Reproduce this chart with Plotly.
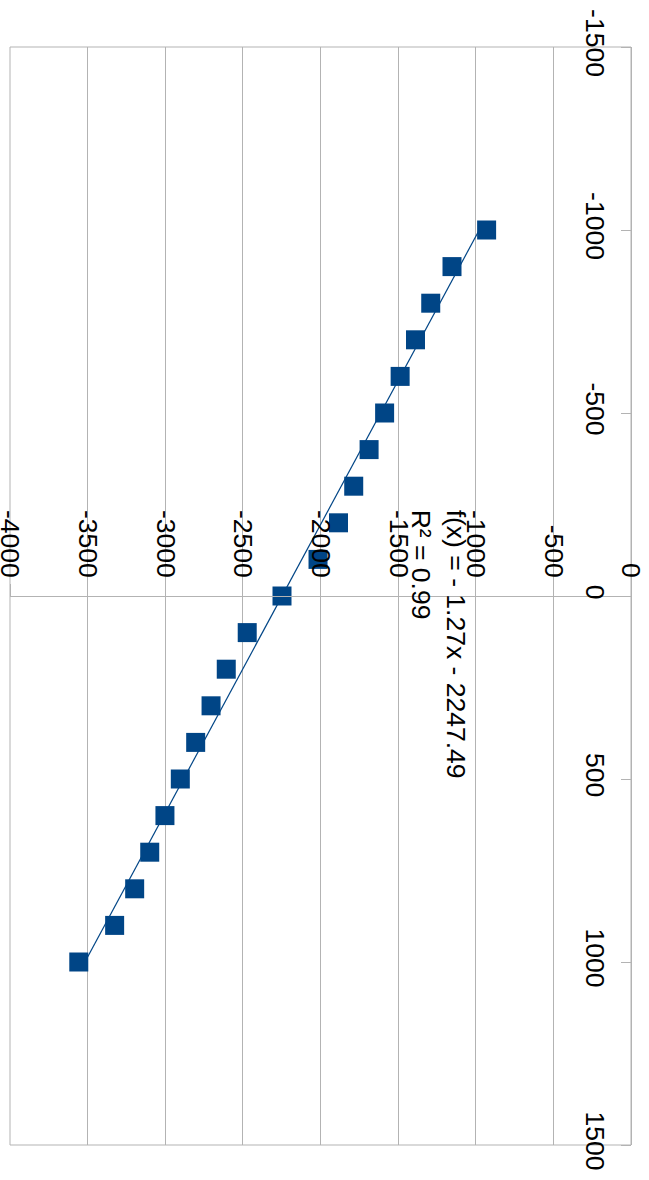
import plotly.graph_objects as go

# Sample positions (x) and measured responses (y)
x_vals = [-1000, -900, -800, -700, -600, -500, -400, -300, -200, -100, 0,
          100, 200, 300, 400, 500, 600, 700, 800, 900, 1000]
y_vals = [-930, -1153, -1290, -1388, -1487, -1587, -1687, -1786, -1884, -2016, -2248,
          -2472, -2607, -2705, -2804, -2903, -3002, -3100, -3197, -3326, -3557]

# Linear trend f(x) = slope * x + intercept
slope = -1.27
intercept = -2247.49
r_squared = 0.99
trend_x = [x_vals[0], x_vals[-1]]
trend_y = [slope * v + intercept for v in trend_x]

x_ticks = [-1500, -1000, -500, 0, 500, 1000, 1500]
y_ticks = [-4000, -3500, -3000, -2500, -2000, -1500, -1000, -500, 0]

BLUE = "#004586"
GRID = "#b3b3b3"
FONT = dict(family="Liberation Sans, Arial, sans-serif", size=26.5, color="#000000")

fig = go.Figure()

# The chart is laid out turned a quarter turn clockwise:
# the horizontal screen axis carries y, the vertical one carries x.
fig.add_trace(go.Scatter(
    x=trend_y, y=trend_x, mode="lines",
    line=dict(color=BLUE, width=1.2),
    hoverinfo="skip", showlegend=False,
))
fig.add_trace(go.Scatter(
    x=y_vals, y=x_vals, mode="markers",
    marker=dict(symbol="square", size=19, color=BLUE, line=dict(width=0)),
    showlegend=False,
))

eq = f"f(x) = - {abs(slope):.2f}x - {abs(intercept):.2f}<br>R² = {r_squared:.2f}"
fig.add_annotation(
    text=eq, textangle=90, align="left",
    xref="paper", yref="paper", x=0.6908, y=0.580,
    xanchor="center", yanchor="top", showarrow=False,
    font=FONT,
)

fig.add_shape(
    type="rect", xref="paper", yref="paper", x0=0, x1=1, y0=0, y1=1,
    line=dict(color=GRID, width=1), layer="below",
)

fig.update_layout(
    width=649, height=1180,
    margin=dict(l=10, r=18, t=47, b=35),
    paper_bgcolor="white", plot_bgcolor="white",
    font=FONT,
    xaxis=dict(
        range=[y_ticks[0], y_ticks[-1]],
        tickvals=y_ticks, ticktext=[str(v) for v in y_ticks],
        tickangle=90, side="top", anchor="free", position=0.5,
        showgrid=True, gridcolor=GRID, gridwidth=1, zeroline=False,
        showline=True, linecolor=GRID, linewidth=1,
        ticks="outside", ticklen=12, tickcolor=GRID, tickwidth=1,
        ticklabelstandoff=-3, ticklabeloverflow="allow", automargin=False,
    ),
    yaxis=dict(
        range=[x_ticks[-1], x_ticks[0]],
        tickvals=x_ticks, ticktext=[str(v) for v in x_ticks],
        tickangle=90, side="left", anchor="free", position=1,
        showgrid=False, zeroline=False,
        showline=True, linecolor=GRID, linewidth=1,
        ticks="outside", ticklen=10, tickcolor=GRID, tickwidth=1,
        ticklabelstandoff=3, ticklabeloverflow="allow", automargin=False,
    ),
)

fig.write_html("out.html")
